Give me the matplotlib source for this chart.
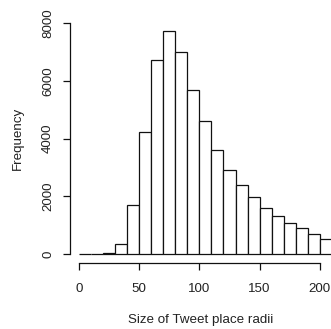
import numpy as np
import matplotlib
matplotlib.use("Agg")
import matplotlib.pyplot as plt

plt.rcParams['font.family'] = ['Liberation Sans', 'DejaVu Sans']

# histogram of tweet place radii, bin width 10
bin_edges = np.arange(0, 220, 10)
counts = [0, 0, 30, 340, 1715, 4230, 6740, 7730, 7000, 5680,
          4615, 3605, 2900, 2390, 1960, 1600, 1310, 1065, 890, 685, 520]
xticks = [0, 50, 100, 150, 200]
yticks = [0, 2000, 4000, 6000, 8000]

fig = plt.figure(figsize=(3.31, 3.29), dpi=100)
ax = fig.add_axes([70 / 331, 1 - 263.3 / 329, 261 / 331, (263.3 - 14) / 329])

ax.bar(bin_edges[:-1], counts, width=10, align='edge',
       facecolor='white', edgecolor='#111111', linewidth=0.9)

ax.set_xlim(-7.5, 209.3)
ax.set_ylim(-323, 8323)

for s in ['top', 'right']:
    ax.spines[s].set_visible(False)
ax.spines['left'].set_bounds(0, 8000)
ax.spines['bottom'].set_bounds(0, 200)
for s in ['left', 'bottom']:
    ax.spines[s].set_linewidth(0.9)
    ax.spines[s].set_color('#111111')

ax.set_xticks(xticks)
ax.set_yticks(yticks)
ax.set_yticklabels([str(v) for v in yticks], rotation=90, va='center')
ax.tick_params(length=5, width=0.9, color='#111111', labelsize=9.6,
               labelcolor='#222222')
ax.tick_params(axis='x', pad=9)
ax.tick_params(axis='y', pad=6.5)

ax.set_xlabel("Size of Tweet place radii", fontsize=9.6, color='#222222', labelpad=14)
ax.set_ylabel("Frequency", fontsize=9.6, color='#222222', labelpad=13)

fig.savefig("out.png", dpi=100)
